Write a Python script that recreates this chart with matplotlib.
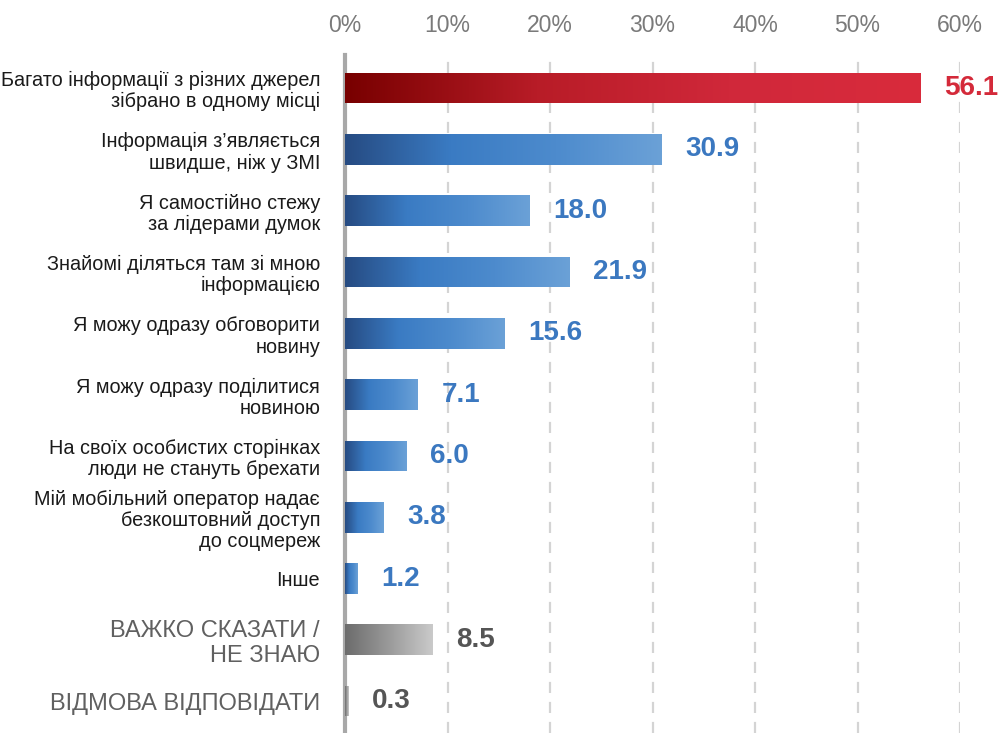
import numpy as np
import matplotlib
matplotlib.use("Agg")
import matplotlib.pyplot as plt
from matplotlib.colors import LinearSegmentedColormap

plt.rcParams['font.family'] = ['Liberation Sans', 'DejaVu Sans']

# data
categories = [
    "Багато інформації з різних джерел\nзібрано в одному місці",
    "Інформація з’являється\nшвидше, ніж у ЗМІ",
    "Я самостійно стежу\nза лідерами думок",
    "Знайомі діляться там зі мною\nінформацією",
    "Я можу одразу обговорити\nновину",
    "Я можу одразу поділитися\nновиною",
    "На своїх особистих сторінках\nлюди не стануть брехати",
    "Мій мобільний оператор надає\nбезкоштовний доступ\nдо соцмереж",
    "Інше",
    "ВАЖКО СКАЗАТИ /\nНЕ ЗНАЮ",
    "ВІДМОВА ВІДПОВІДАТИ",
]
values = [56.1, 30.9, 18.0, 21.9, 15.6, 7.1, 6.0, 3.8, 1.2, 8.5, 0.3]
groups = ["red", "blue", "blue", "blue", "blue", "blue", "blue", "blue", "blue", "gray", "gray"]
xticks = [0, 10, 20, 30, 40, 50, 60]

# colours per group
cmaps = {
    "red": LinearSegmentedColormap.from_list("r", ["#780000", "#b81c27", "#d0283a", "#d92b3c"]),
    "blue": LinearSegmentedColormap.from_list("b", ["#264b82", "#3a7bc3", "#4d8bcd", "#6ba1d7"]),
    "gray": LinearSegmentedColormap.from_list("g", ["#6c6c6c", "#9a9a9a", "#cacaca"]),
}
value_colors = {"red": "#d42a3a", "blue": "#3b78c0", "gray": "#555555"}
label_colors = {"red": "#1a1a1a", "blue": "#1a1a1a", "gray": "#606060"}
label_sizes = {"red": 14.3, "blue": 14.3, "gray": 17}

fig = plt.figure(figsize=(10.05, 7.33), dpi=100)
ax = fig.add_axes([345 / 1005, 0, 615 / 1005, 678 / 733])

y = np.arange(len(values))
bars = ax.barh(y, values, height=0.5, color="none", edgecolor="none", zorder=3)

grad = np.linspace(0, 1, 256).reshape(1, -1)
for bar, v, g in zip(bars, values, groups):
    yb = bar.get_y()
    im = ax.imshow(grad, cmap=cmaps[g], aspect="auto", interpolation="bilinear",
                   extent=(0, v, yb + bar.get_height(), yb), zorder=3)
    im.set_clip_path(bar)
    ax.annotate(f"{v:.1f}", xy=(v, bar.get_y() + bar.get_height() / 2),
                xytext=(17, 0), textcoords="offset points", ha="left", va="center",
                fontsize=20, fontweight="bold", color=value_colors[g],
                annotation_clip=False, zorder=4)

ax.set_xlim(0, 60)
ax.set_ylim(len(values) - 0.48, -0.54)

# grid
for t in xticks[1:]:
    ax.axvline(t, color="#d4d4d4", linewidth=1.6, linestyle=(0, (5, 4)), zorder=1)

ax.xaxis.tick_top()
ax.set_xticks(xticks)
ax.set_xticklabels([f"{t}%" for t in xticks], fontsize=16.5, color="#7a7a7a")
ax.tick_params(axis="x", length=0, pad=13)

ax.set_yticks(y)
ax.set_yticklabels(categories, linespacing=1.15)
ax.tick_params(axis="y", length=0, pad=18)
for lbl, g in zip(ax.get_yticklabels(), groups):
    lbl.set_color(label_colors[g])
    lbl.set_fontsize(label_sizes[g])

for s in ["top", "right", "bottom"]:
    ax.spines[s].set_visible(False)
ax.spines["left"].set_color("#a8a8a8")
ax.spines["left"].set_linewidth(3)
ax.spines["left"].set_zorder(2)

fig.savefig("out.png", dpi=100)
